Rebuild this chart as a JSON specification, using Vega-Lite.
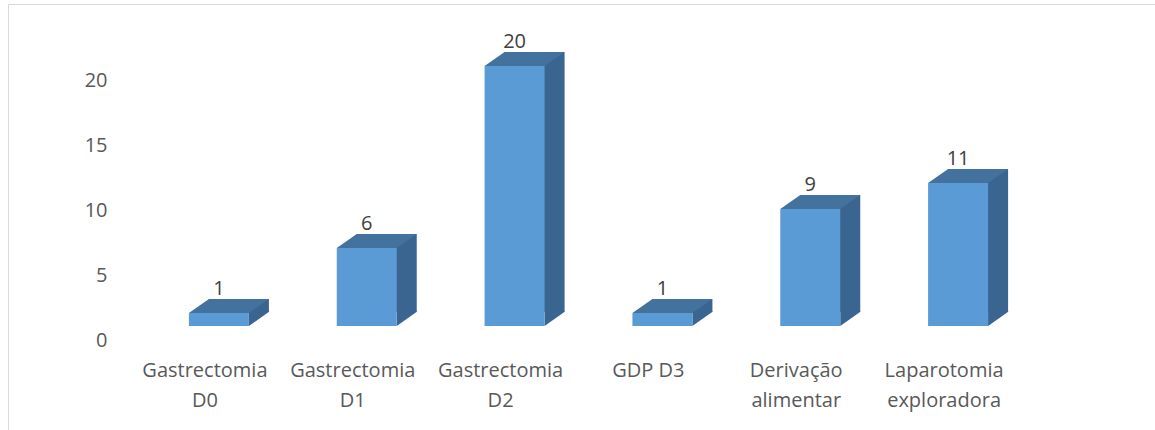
{
  "$schema": "https://vega.github.io/schema/vega-lite/v6.json",
  "autosize": {"type": "none"},
  "padding": {"left": 8, "top": 4, "right": 0, "bottom": 0},
  "width": 1160,
  "height": 450,
  "background": "white",
  "config": {
    "view": {"stroke": "#D9D9D9", "strokeWidth": 1},
    "font": "Open Sans"
  },
  "data": {
    "values": [
      {"cat": "Gastrectomia D0", "n": 1},
      {"cat": "Gastrectomia D1", "n": 6},
      {"cat": "Gastrectomia D2", "n": 20},
      {"cat": "GDP D3", "n": 1},
      {"cat": "Derivação alimentar", "n": 9},
      {"cat": "Laparotomia exploradora", "n": 11}
    ]
  },
  "encoding": {
    "x": {
      "field": "cat", "type": "nominal", "sort": null,
      "scale": {"range": [123, 1010], "paddingInner": 0, "paddingOuter": 0},
      "axis": {
        "title": null, "orient": "bottom", "offset": -96,
        "domain": false, "ticks": false, "tickSize": 0, "labelPadding": 2,
        "labelAngle": 0, "labelBaseline": "top", "labelFontSize": 20,
        "labelColor": "#595959", "labelLineHeight": 30, "labelFont": "Open Sans",
        "labelExpr": "datum.label == 'GDP D3' ? datum.label : split(datum.label, ' ')"
      }
    }
  },
  "layer": [
    {
      "mark": {"type": "bar", "color": "#3A6591", "width": 60, "xOffset": 34, "yOffset": -28},
      "encoding": {
        "y": {
          "field": "n", "type": "quantitative",
          "scale": {"domain": [0, 25], "range": [336, 11], "nice": false, "zero": true},
          "axis": {
            "title": null, "orient": "left", "offset": -99, "values": [0, 5, 10, 15, 20],
            "domain": false, "ticks": false, "tickSize": 0, "grid": false, "labelPadding": 0,
            "labelFontSize": 20, "labelColor": "#595959", "labelFont": "Open Sans"
          }
        }
      }
    },
    {
      "mark": {"type": "point", "filled": true, "opacity": 1, "size": 4, "strokeWidth": 0,
               "color": "#3A6591",
               "shape": "M 44 -14 L 44 -28.5 L 64.5 -28.5 Z"},
      "encoding": {"y": {"datum": 0, "type": "quantitative"}}
    },
    {
      "mark": {"type": "bar", "color": "#5B9BD5", "width": 60, "xOffset": 14, "yOffset": -14},
      "encoding": {"y": {"field": "n", "type": "quantitative"}}
    },
    {
      "mark": {"type": "point", "filled": true, "opacity": 1, "size": 4, "strokeWidth": 0,
               "color": "#43729F",
               "shape": "M -16 -14 L 44 -14 L 64 -28 L 4 -28 Z"},
      "encoding": {"y": {"field": "n", "type": "quantitative"}}
    },
    {
      "mark": {"type": "text", "baseline": "alphabetic", "align": "center", "xOffset": 14, "yOffset": -32,
               "fontSize": 20, "color": "#404040", "font": "Open Sans"},
      "encoding": {
        "y": {"field": "n", "type": "quantitative"},
        "text": {"field": "n", "type": "quantitative"}
      }
    }
  ]
}
